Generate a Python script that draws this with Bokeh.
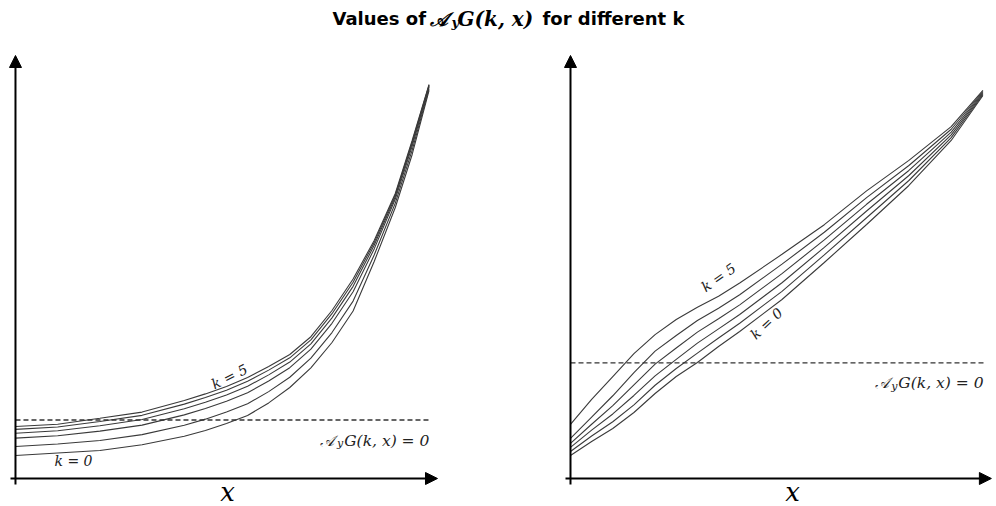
import math
from bokeh.plotting import figure
from bokeh.models import Range1d, Arrow, NormalHead, Label
from bokeh.embed import file_html
from bokeh.resources import INLINE

# ---------------- data ----------------
left_x = [0, 1, 2, 3, 4, 4.5, 5, 5.5, 6, 6.5, 7, 7.5, 8, 8.5, 9, 9.4, 9.8]
left_k0 = [0.544, 0.603, 0.662, 0.799, 0.998, 1.135, 1.300, 1.489, 1.787, 2.151, 2.617, 3.215, 3.960, 5.130, 6.407, 7.660, 9.173]
left_k1 = [0.756, 0.814, 0.898, 1.038, 1.260, 1.403, 1.571, 1.768, 2.054, 2.393, 2.845, 3.450, 4.194, 5.284, 6.510, 7.763, 9.217]
left_k2 = [0.955, 1.012, 1.119, 1.262, 1.504, 1.654, 1.825, 2.028, 2.304, 2.619, 3.058, 3.669, 4.414, 5.428, 6.606, 7.859, 9.258]
left_k3 = [1.071, 1.127, 1.248, 1.393, 1.648, 1.801, 1.974, 2.181, 2.450, 2.752, 3.183, 3.798, 4.542, 5.512, 6.662, 7.915, 9.282]
left_k4 = [1.161, 1.216, 1.347, 1.493, 1.758, 1.914, 2.088, 2.298, 2.562, 2.853, 3.279, 3.896, 4.640, 5.576, 6.705, 7.958, 9.300]
left_k5 = [1.229, 1.284, 1.423, 1.570, 1.842, 2.000, 2.175, 2.388, 2.648, 2.931, 3.352, 3.972, 4.716, 5.626, 6.738, 7.991, 9.314]
left_zero_level = 1.383

right_x = [0, 0.5, 1, 1.5, 2, 2.5, 3, 3.5, 4, 5, 6, 7, 8, 9, 9.75]
right_k0 = [0.544, 0.875, 1.182, 1.560, 2.009, 2.411, 2.742, 3.121, 3.475, 4.232, 5.106, 6.005, 6.927, 7.991, 9.054]
right_k1 = [0.639, 1.004, 1.342, 1.741, 2.204, 2.600, 2.964, 3.323, 3.670, 4.425, 5.285, 6.164, 7.045, 8.057, 9.078]
right_k2 = [0.735, 1.143, 1.526, 1.963, 2.426, 2.816, 3.200, 3.537, 3.876, 4.628, 5.464, 6.323, 7.163, 8.123, 9.102]
right_k3 = [0.830, 1.282, 1.723, 2.213, 2.705, 3.086, 3.461, 3.775, 4.105, 4.842, 5.642, 6.482, 7.282, 8.190, 9.125]
right_k4 = [0.947, 1.451, 1.956, 2.505, 3.011, 3.382, 3.736, 4.025, 4.345, 5.067, 5.821, 6.641, 7.400, 8.256, 9.149]
right_k5 = [1.277, 1.868, 2.411, 2.950, 3.400, 3.760, 4.050, 4.310, 4.620, 5.300, 6.000, 6.800, 7.520, 8.320, 9.173]
right_zero_level = 2.735

left_curves = [left_k0, left_k1, left_k2, left_k3, left_k4, left_k5]
right_curves = [right_k0, right_k1, right_k2, right_k3, right_k4, right_k5]

title_parts = ["Values of", "\U0001D49C", "y", "G(k, x)", "for different k"]
zero_label_parts = ["\U0001D49C", "y", "G(k, x) = 0"]
k_low_label = "k = 0"
k_high_label = "k = 5"
x_axis_label = "x"

# ---------------- figure ----------------
p = figure(width=996, height=506,
           x_range=Range1d(-0.355, 23.246), y_range=Range1d(-0.662, 11.300),
           output_backend="svg", toolbar_location=None,
           x_axis_location=None, y_axis_location=None,
           min_border=0, outline_line_color=None)
p.extra_x_ranges = {"right": Range1d(-13.475, 10.071)}
p.grid.visible = False
p.background_fill_color = "white"

CURVE = "#3a3a3a"
SERIF = "DejaVu Serif"
SANS = "DejaVu Sans"

for ys in left_curves:
    p.line(left_x, ys, line_color=CURVE, line_width=1.1)
for ys in right_curves:
    p.line(right_x, ys, line_color=CURVE, line_width=1.1, x_range_name="right")

p.line([0, 9.79], [left_zero_level, left_zero_level], line_color="#333333",
       line_width=1.3, line_dash="5 3")
p.line([0, 9.8], [right_zero_level, right_zero_level], line_color="#333333",
       line_width=1.3, line_dash="5 3", x_range_name="right")

# axes with arrows
def head():
    return NormalHead(size=12, fill_color="black", line_color="black")

for rn in ["default", "right"]:
    xend = 10.0 if rn == "default" else 9.95
    p.add_layout(Arrow(end=head(), x_start=-0.118, y_start=0, x_end=xend, y_end=0,
                       line_width=2, line_color="black", x_range_name=rn))
    p.add_layout(Arrow(end=head(), x_start=0, y_start=-0.142, x_end=0, y_end=10.0,
                       line_width=2, line_color="black", x_range_name=rn))

def lab(text, x, y, size, font, style, rn="default", align="left", baseline="alphabetic",
        angle=0.0, color="black"):
    p.add_layout(Label(x=x, y=y, text=text, text_font=font, text_font_size=f"{size}px",
                       text_font_style=style, text_align=align, text_baseline=baseline,
                       angle=angle, text_color=color, x_range_name=rn))

# title
lab(title_parts[0], 7.512, 10.868, 18, SANS, "bold")
lab(title_parts[1], 9.834, 10.868, 19, SERIF, "bold italic")
lab(title_parts[2], 10.33, 10.78, 13, SERIF, "bold italic")
lab(title_parts[3], 10.474, 10.868, 20, SERIF, "bold italic")
lab(title_parts[4], 12.488, 10.868, 18, SANS, "bold")

# zero-level labels
lab(zero_label_parts[0], 7.227, 0.898, 15, SERIF, "italic", color="#222222")
lab(zero_label_parts[1], 7.62, 0.827, 11, SERIF, "italic", color="#222222")
lab(zero_label_parts[2], 7.79, 0.898, 15.5, SERIF, "italic", color="#222222")

lab(zero_label_parts[0], 7.187, 2.246, 15, SERIF, "italic", rn="right", color="#222222")
lab(zero_label_parts[1], 7.58, 2.175, 11, SERIF, "italic", rn="right", color="#222222")
lab(zero_label_parts[2], 7.75, 2.246, 15.5, SERIF, "italic", rn="right", color="#222222")

# k labels
lab(k_low_label, 1.374, 0.402, 14, SERIF, "italic", align="center", baseline="middle", color="#222222")
lab(k_high_label, 5.071, 2.41, 14, SERIF, "italic", align="center", baseline="middle",
    angle=math.radians(26), color="#222222")
lab(k_high_label, 3.499, 4.752, 14, SERIF, "italic", rn="right", align="center", baseline="middle",
    angle=math.radians(35), color="#222222")
lab(k_low_label, 4.634, 3.664, 14, SERIF, "italic", rn="right", align="center", baseline="middle",
    angle=math.radians(43), color="#222222")

# x labels
lab(x_axis_label, 5.024, -0.331, 26, SERIF, "italic", align="center", baseline="middle")
lab(x_axis_label, 5.248, -0.331, 26, SERIF, "italic", rn="right", align="center", baseline="middle")

open("out.html", "w").write(file_html(p, INLINE))
